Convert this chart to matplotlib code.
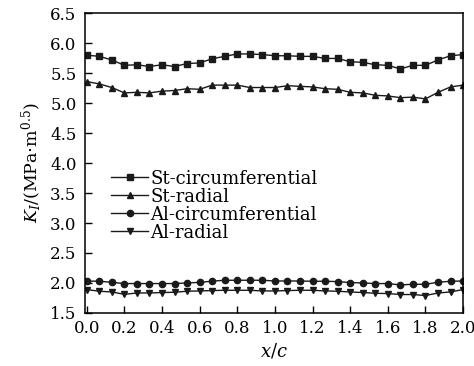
import matplotlib
matplotlib.use("Agg")
import matplotlib.pyplot as plt
import numpy as np

plt.rcParams['font.family'] = 'DejaVu Serif'
plt.rcParams['mathtext.fontset'] = 'dejavuserif'
plt.rcParams['font.size'] = 12

# x/c positions along the crack front
x = np.linspace(0, 2, 31)

st_circ = [5.80, 5.78, 5.72, 5.63, 5.64, 5.61, 5.64, 5.61, 5.66, 5.67, 5.74,
           5.78, 5.82, 5.82, 5.81, 5.79, 5.79, 5.78, 5.78, 5.745, 5.745, 5.69,
           5.68, 5.64, 5.63, 5.57, 5.63, 5.63, 5.72, 5.79, 5.81]
st_rad = [5.36, 5.32, 5.26, 5.17, 5.18, 5.17, 5.20, 5.21, 5.24, 5.23, 5.30,
          5.30, 5.30, 5.26, 5.26, 5.26, 5.29, 5.28, 5.27, 5.24, 5.23, 5.18,
          5.17, 5.13, 5.12, 5.09, 5.10, 5.07, 5.18, 5.27, 5.30]
al_circ = [2.03, 2.03, 2.01, 1.99, 1.99, 1.99, 1.99, 1.99, 2.00, 2.01, 2.03,
           2.045, 2.045, 2.045, 2.045, 2.033, 2.033, 2.033, 2.028, 2.028, 2.023, 2.007,
           2.00, 1.99, 1.99, 1.967, 1.978, 1.978, 2.012, 2.028, 2.033]
al_rad = [1.89, 1.862, 1.85, 1.81, 1.833, 1.833, 1.84, 1.845, 1.862, 1.867, 1.873,
          1.878, 1.878, 1.878, 1.867, 1.867, 1.873, 1.878, 1.878, 1.867, 1.862, 1.85,
          1.84, 1.828, 1.823, 1.807, 1.807, 1.79, 1.833, 1.85, 1.89]

fig = plt.figure(figsize=(4.74, 3.66), dpi=100)
ax = fig.add_axes([0.179, 0.145, 0.798, 0.819])

ax.plot(x, st_circ, '-s', color='#1a1a1a', lw=1, ms=5, label='St-circumferential')
ax.plot(x, st_rad, '-^', color='#1a1a1a', lw=1, ms=5, label='St-radial')
ax.plot(x, al_circ, '-o', color='#1a1a1a', lw=1, ms=4.5, label='Al-circumferential')
ax.plot(x, al_rad, '-v', color='#1a1a1a', lw=1, ms=5, label='Al-radial')

ax.set_xlim(-0.01, 2.0)
ax.set_ylim(1.5, 6.5)
ax.set_xticks(np.arange(0, 2.01, 0.2))
ax.set_yticks(np.arange(1.5, 6.51, 0.5))
ax.xaxis.set_major_formatter(matplotlib.ticker.FormatStrFormatter('%.1f'))
ax.yaxis.set_major_formatter(matplotlib.ticker.FormatStrFormatter('%.1f'))
ax.tick_params(direction='in', length=5, width=1)
ax.tick_params(axis='x', pad=5)
ax.tick_params(axis='y', pad=6)
for s in ax.spines.values():
    s.set_linewidth(1.1)

ax.set_xlabel(r'$x/c$', fontsize=13, labelpad=3)
ax.set_ylabel(r'$K_I$/(MPa$\cdot$m$^{0.5}$)', fontsize=12.5, labelpad=4)

ax.legend(loc='upper left', bbox_to_anchor=(0.068, 0.478), frameon=False,
          fontsize=13, handlelength=2.1, handletextpad=0.1, labelspacing=0.0,
          borderpad=0, borderaxespad=0)

fig.savefig('out.png', dpi=100)
